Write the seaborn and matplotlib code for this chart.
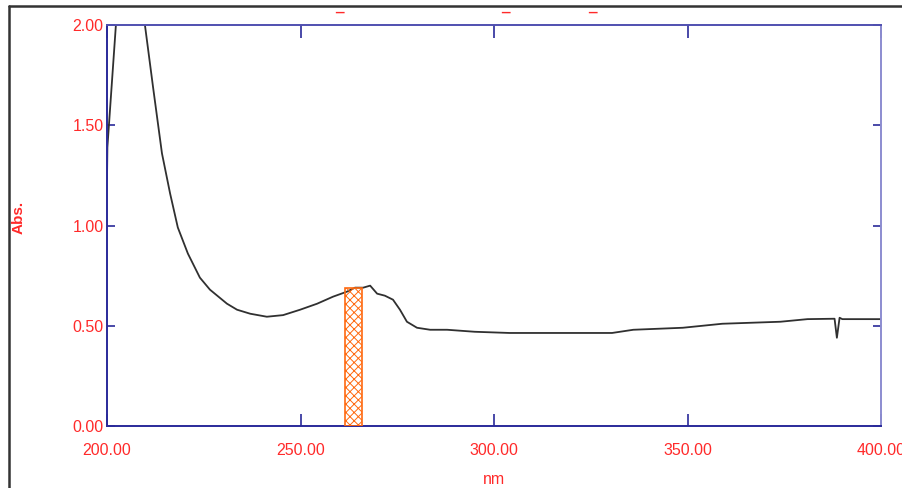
import matplotlib
matplotlib.use('Agg')
import matplotlib.pyplot as plt
import seaborn as sns
import pandas as pd
from matplotlib.lines import Line2D

# spectrum
wavelength = [200.0, 200.1, 202.3, 204.0, 206.0, 208.0, 209.8, 211.9, 214.2, 216.3,
              218.3, 220.9, 224.0, 226.6, 231.0, 233.6, 237.0, 241.3, 245.5, 249.9,
              254.3, 258.4, 262.0, 264.1, 266.2, 268.0, 269.8, 271.8, 273.9, 275.7,
              277.5, 280.1, 283.5, 287.9, 295.0, 304.0, 318.0, 330.5, 336.0, 348.8,
              359.0, 374.0, 381.0, 388.0, 388.6, 389.3, 390.0, 400.0]
absorbance = [1.23, 1.39, 2.00, 2.50, 2.65, 2.40, 2.00, 1.69, 1.36, 1.16,
              0.99, 0.86, 0.74, 0.68, 0.61, 0.58, 0.56, 0.545, 0.553, 0.58,
              0.61, 0.645, 0.67, 0.69, 0.69, 0.70, 0.66, 0.65, 0.63, 0.58,
              0.52, 0.49, 0.48, 0.48, 0.47, 0.464, 0.464, 0.464, 0.48, 0.49,
              0.51, 0.52, 0.533, 0.535, 0.44, 0.54, 0.533, 0.533]

# highlighted peak band
band_lo, band_hi, band_top = 261.5, 265.9, 0.69

x_ticks = [200, 250, 300, 350, 400]
y_ticks = [0.0, 0.5, 1.0, 1.5, 2.0]

sns.set_style('white')
plt.rcParams['font.family'] = ['Liberation Sans', 'DejaVu Sans']
plt.rcParams['hatch.linewidth'] = 0.7

red = '#ff2a2a'
navy = '#2a2a9a'
light = '#8c8cd0'

fig = plt.figure(figsize=(9.02, 4.88), dpi=100)
ax = fig.add_axes([107 / 902, 62 / 488, 774 / 902, 401 / 488])

df = pd.DataFrame({'nm': wavelength, 'Abs.': absorbance})
sns.lineplot(data=df, x='nm', y='Abs.', ax=ax, color='#303030', lw=1.3)

ax.bar((band_lo + band_hi) / 2, band_top, width=band_hi - band_lo,
       facecolor='none', edgecolor='#ff6a10', hatch='xxxx', lw=1.2, zorder=3)

ax.set_xlim(200, 400)
ax.set_ylim(0, 2)
ax.set_xticks(x_ticks)
ax.set_yticks(y_ticks)
ax.set_xticklabels([f'{v:.2f}' for v in x_ticks])
ax.set_yticklabels([f'{v:.2f}' for v in y_ticks])

ax.tick_params(axis='x', direction='in', length=9, width=1.2, colors=navy,
               labelcolor=red, labelsize=11.5, pad=12, top=True, bottom=True)
ax.tick_params(axis='y', direction='in', length=6, width=1.2, colors=navy,
               labelcolor=red, labelsize=11.5, pad=2.5, right=True, left=True)
for t in ax.yaxis.get_major_ticks():
    t.tick2line.set_color(light)
for t in ax.xaxis.get_major_ticks():
    t.tick2line.set_color('#5050b0')

ax.spines['left'].set_color(navy)
ax.spines['bottom'].set_color(navy)
ax.spines['top'].set_color('#5050b0')
ax.spines['right'].set_color(light)
for s in ax.spines.values():
    s.set_linewidth(1.4)

ax.set_xlabel('nm', color=red, fontsize=11.5, labelpad=10)
ax.set_ylabel('Abs.', color=red, fontsize=11, fontweight='bold', labelpad=0)
ax.yaxis.set_label_coords(-0.105, 0.52)

# title fragments visible under the window edge
for fx in [339, 505, 592]:
    fig.text(fx / 902, 1 - 14 / 488, '_', color=red, fontsize=11,
             fontweight='bold', ha='center', va='bottom')

# outer window frame
fig.add_artist(Line2D([9 / 902, 9 / 902], [0, 1 - 6 / 488], color='#333333', lw=1.8))
fig.add_artist(Line2D([9 / 902, 1], [1 - 6 / 488, 1 - 6 / 488], color='#333333', lw=1.8))

fig.savefig('out.png', dpi=100)
